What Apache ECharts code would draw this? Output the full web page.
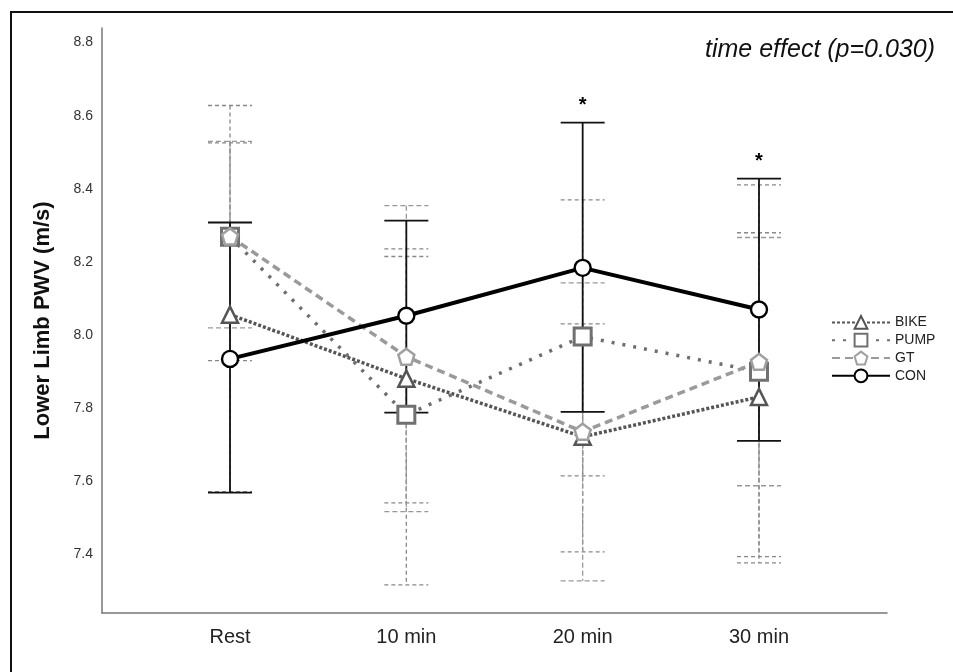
<!DOCTYPE html>
<html>
<head>
<meta charset="utf-8">
<script src="https://cdn.jsdelivr.net/npm/echarts@6/dist/echarts.min.js"></script>
<style>
  html, body { margin: 0; padding: 0; background: #fff; }
  #main { position: absolute; left: 0; top: 0; width: 953px; height: 672px; }
  #frame { position: absolute; left: 10px; top: 11px; width: 943px; height: 661px;
           border-left: 2px solid #111; border-top: 2px solid #111; pointer-events: none; }
</style>
</head>
<body>
<div id="main"></div>
<div id="frame"></div>
<script>
var times = ['Rest', '10 min', '20 min', '30 min'];
var yTicks = [7.4, 7.6, 7.8, 8.0, 8.2, 8.4, 8.6, 8.8];

var bikeMean = [8.056, 7.881, 7.722, 7.831];
var bikeLow  = [7.572, 7.541, 7.407, 7.377];
var bikeHigh = [8.526, 8.215, 8.031, 8.280];

var pumpMean = [8.269, 7.782, 7.996, 7.900];
var pumpLow  = [7.930, 7.317, 7.615, 7.394];
var pumpHigh = [8.628, 8.236, 8.370, 8.411];

var gtMean = [8.270, 7.941, 7.736, 7.927];
var gtLow  = [8.020, 7.517, 7.328, 7.588];
var gtHigh = [8.530, 8.354, 8.143, 8.267];

var conMean = [7.935, 8.053, 8.184, 8.070];
var conLow  = [7.569, 7.788, 7.790, 7.711];
var conHigh = [8.308, 8.313, 8.581, 8.428];
var conSig  = [false, false, true, true];

var FONT = 'Liberation Sans, Arial, sans-serif';
var pentagon = 'path://M0,-10 L9.51,-3.09 L5.88,8.09 L-5.88,8.09 L-9.51,-3.09 Z';

function pts(arr) {
  var out = [];
  for (var i = 0; i < arr.length; i++) out.push([i, arr[i]]);
  return out;
}
function bars(lo, hi, sig) {
  var out = [];
  for (var i = 0; i < lo.length; i++) out.push([i, lo[i], hi[i], sig && sig[i] ? 1 : 0]);
  return out;
}

// error bars drawn through the axes
function errorSeries(name, data, color, dash, width) {
  return {
    type: 'custom',
    name: name,
    z: 1,
    silent: true,
    data: data,
    encode: { x: 0, y: [1, 2] },
    renderItem: function (params, api) {
      var top = api.coord([api.value(0), api.value(2)]);
      var bot = api.coord([api.value(0), api.value(1)]);
      var half = 22;
      var style = { stroke: color, lineWidth: width, lineDash: dash, fill: null };
      var kids = [
        { type: 'line', shape: { x1: top[0], y1: top[1], x2: bot[0], y2: bot[1] }, style: style },
        { type: 'line', shape: { x1: top[0] - half, y1: top[1], x2: top[0] + half, y2: top[1] }, style: style },
        { type: 'line', shape: { x1: bot[0] - half, y1: bot[1], x2: bot[0] + half, y2: bot[1] }, style: style }
      ];
      if (api.value(3)) {
        kids.push({ type: 'text', x: top[0], y: top[1] - 17,
          style: { text: '*', fill: '#000', font: 'bold 20px ' + FONT, align: 'center', verticalAlign: 'middle' } });
      }
      return { type: 'group', children: kids };
    }
  };
}

var chart = echarts.init(document.getElementById('main'));
chart.setOption({
  backgroundColor: '#fff',
  animation: false,
  title: {
    text: 'time effect (p=0.030)',
    right: 13, top: 33,
    textStyle: { fontFamily: FONT, fontStyle: 'italic', fontWeight: 'normal', fontSize: 25, color: '#111' }
  },
  legend: {
    data: ['BIKE', 'PUMP', 'GT', 'CON'],
    orient: 'vertical',
    left: 826, top: 310,
    itemWidth: 58, itemHeight: 16, itemGap: 3,
    textStyle: { fontFamily: FONT, fontSize: 14, color: '#222' }
  },
  grid: { left: 102, right: 66, top: 28, bottom: 59 },
  xAxis: {
    type: 'value',
    min: -0.726, max: 3.726,
    splitLine: { show: false },
    axisTick: { show: false },
    axisLine: { lineStyle: { color: '#777', width: 1.5 } },
    axisLabel: {
      customValues: [0, 1, 2, 3],
      formatter: function (v) { return times[Math.round(v)]; },
      fontFamily: FONT, fontSize: 20, color: '#222', margin: 14
    }
  },
  yAxis: {
    type: 'value',
    min: 7.24, max: 8.84,
    name: 'Lower Limb PWV (m/s)',
    nameLocation: 'middle',
    nameGap: 48,
    nameTextStyle: { fontFamily: FONT, fontSize: 22, fontWeight: 'bold', color: '#111' },
    splitLine: { show: false },
    axisTick: { show: false },
    axisLine: { show: true, onZero: false, lineStyle: { color: '#777', width: 1.5 } },
    axisLabel: {
      customValues: yTicks,
      formatter: function (v) { return v.toFixed(1); },
      fontFamily: FONT, fontSize: 14, color: '#333', margin: 9
    }
  },
  series: [
    errorSeries('bikeErr', bars(bikeLow, bikeHigh), '#888', [4, 3], 1.3),
    errorSeries('pumpErr', bars(pumpLow, pumpHigh), '#888', [4, 3], 1.3),
    errorSeries('gtErr', bars(gtLow, gtHigh), '#999', [5, 3], 1.3),
    errorSeries('conErr', bars(conLow, conHigh, conSig), '#111', null, 1.8),
    {
      name: 'BIKE', type: 'line', z: 3, data: pts(bikeMean),
      symbol: 'triangle', symbolSize: 16,
      lineStyle: { color: '#555', width: 3.5, type: [3, 2] },
      itemStyle: { color: '#fff', borderColor: '#555', borderWidth: 2.5 }
    },
    {
      name: 'PUMP', type: 'line', z: 3, data: pts(pumpMean),
      symbol: 'rect', symbolSize: 17,
      lineStyle: { color: '#6e6e6e', width: 3.5, type: [3, 8] },
      itemStyle: { color: '#fff', borderColor: '#707070', borderWidth: 3 }
    },
    {
      name: 'GT', type: 'line', z: 3, data: pts(gtMean),
      symbol: pentagon, symbolSize: 16,
      lineStyle: { color: '#9a9a9a', width: 3.5, type: [8, 5] },
      itemStyle: { color: '#fff', borderColor: '#a0a0a0', borderWidth: 2.5 }
    },
    {
      name: 'CON', type: 'line', z: 4, data: pts(conMean),
      symbol: 'circle', symbolSize: 16,
      lineStyle: { color: '#000', width: 4 },
      itemStyle: { color: '#fff', borderColor: '#000', borderWidth: 2.4 }
    }
  ]
});
</script>
</body>
</html>
